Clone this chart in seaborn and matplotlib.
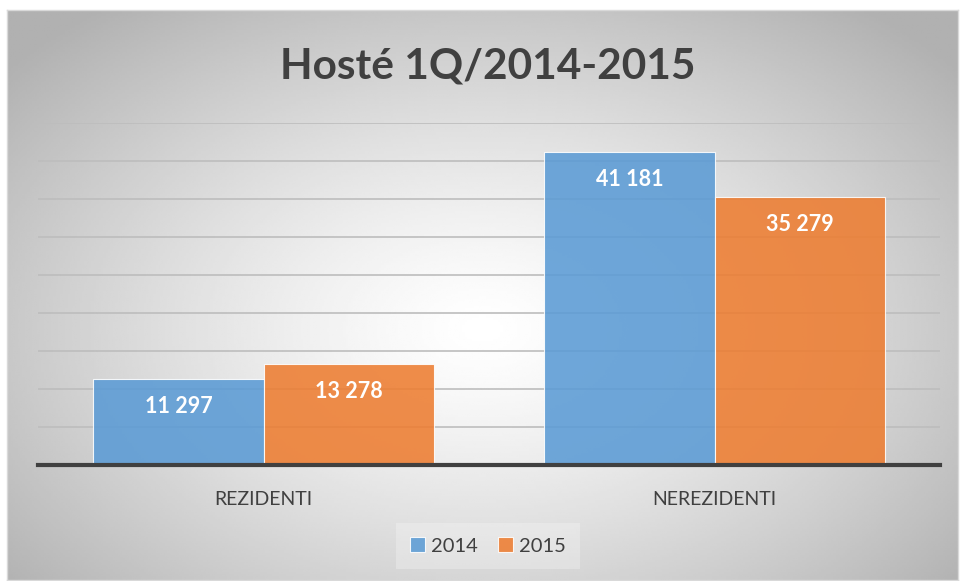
import numpy as np
import pandas as pd
import seaborn as sns
import matplotlib.pyplot as plt

# data
categories = ["REZIDENTI", "NEREZIDENTI"]
years = ["2014", "2015"]
values_2014 = [11297, 41181]
values_2015 = [13278, 35279]

title = "Hosté 1Q/2014-2015"
colors = ["#5B9BD5", "#ED7D31"]

df = pd.DataFrame({
    "kategorie": categories * 2,
    "rok": [years[0]] * 2 + [years[1]] * 2,
    "hoste": values_2014 + values_2015,
})

sns.set_theme(style="white")
plt.rcParams["font.family"] = ["Lato", "DejaVu Sans"]

W, H = 960, 581
fig = plt.figure(figsize=(W / 100, H / 100), dpi=100)
fig.patch.set_facecolor("white")

# radial gradient background of the chart area
bg = fig.add_axes([7 / W, 1 - 580 / H, (958 - 7) / W, (580 - 10) / H], zorder=-2)
gx, gy = np.meshgrid(np.linspace(-1, 1, 400), np.linspace(-1, 1, 240))
r = np.sqrt(((gx - 0.0) / 1.05) ** 2 + ((gy - 0.12) / 1.15) ** 2)
shade = 1.0 - 0.23 * np.clip(r, 0, 1.25) ** 1.3
bg.imshow(shade, cmap="gray", vmin=0, vmax=1, aspect="auto", extent=[0, 1, 0, 1], interpolation="bilinear")
bg.set_xticks([])
bg.set_yticks([])
for s in bg.spines.values():
    s.set_color("#d9d9d9")
    s.set_linewidth(1)

ax = fig.add_axes([38 / W, 1 - 465 / H, (940 - 38) / W, (465 - 123) / H])
ax.patch.set_alpha(0)

sns.barplot(data=df, x="kategorie", y="hoste", hue="rok", palette=colors, saturation=1,
            width=0.754, gap=0, alpha=0.88, edgecolor="white", linewidth=0.8,
            ax=ax, zorder=3)

ax.set_ylim(0, 45000)
ax.set_yticks(np.arange(0, 45001, 5000))
ax.yaxis.grid(True, color="#bdbdbd", linewidth=1.2, zorder=0)
ax.set_axisbelow(True)
ax.tick_params(axis="y", left=False, labelleft=False)
ax.tick_params(axis="x", bottom=False, labelsize=14, labelcolor="#404040", pad=13)
ax.set_xlabel("")
ax.set_ylabel("")
for side in ["top", "right", "left"]:
    ax.spines[side].set_visible(False)
ax.spines["bottom"].set_color("#404040")
ax.spines["bottom"].set_linewidth(3)
ax.spines["bottom"].set_zorder(5)

for cont in ax.containers:
    labels = [f"{v:,.0f}".replace(",", " ") for v in cont.datavalues]
    texts = ax.bar_label(cont, labels=labels, padding=-20, color="white",
                         fontsize=15.5, fontweight="bold")
    for t in texts:
        t.set_va("center")

handles, labs = ax.get_legend_handles_labels()
ax.get_legend().remove()
leg = fig.legend(handles, labs, loc="center", bbox_to_anchor=(488 / W, 1 - 546 / H),
                 ncol=2, frameon=True, fontsize=14.5, handlelength=0.75, handleheight=0.75,
                 handletextpad=0.3, columnspacing=1.0, labelcolor="#404040")
leg.get_frame().set_facecolor("white")
leg.get_frame().set_alpha(0.25)
leg.get_frame().set_edgecolor("none")
leg.get_frame().set_boxstyle("square", pad=0.3)

fig.text(488 / W, 1 - 78 / H, title, ha="center", va="baseline",
         fontsize=30.5, fontweight="bold", color="#404040")

fig.savefig("out.png", dpi=100)
